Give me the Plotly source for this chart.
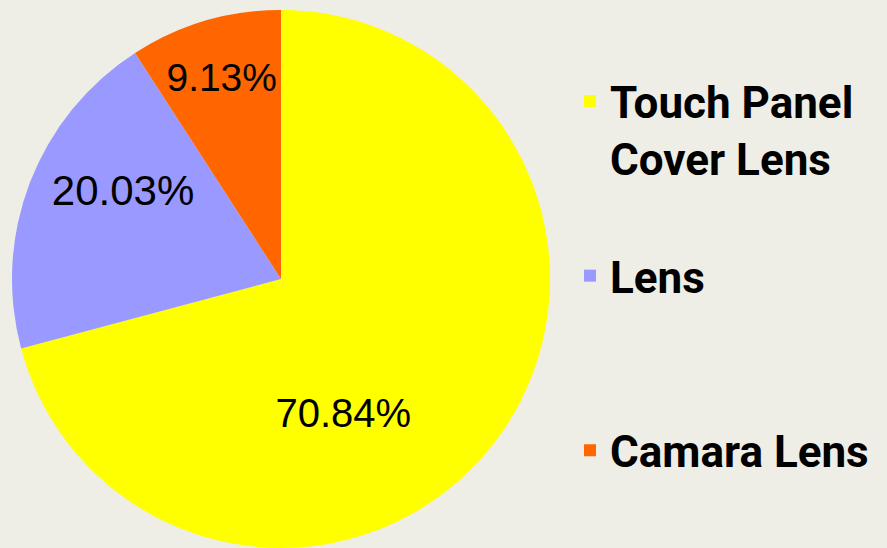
"""Pie chart of lens product share with a large right-hand legend."""

import plotly.graph_objects as go

# --- data -----------------------------------------------------------------
labels = ["Touch Panel Cover Lens", "Lens", "Camara Lens"]
legend_lines = [["Touch Panel", "Cover Lens", " "], ["Lens", " ", " "], ["Camara Lens"]]
shares = [70.84, 20.03, 9.13]
colors = ["#FFFF00", "#9999FF", "#FF6600"]

W, H = 887, 548
BG = "#EEEDE6"

legend_text = ["<br>".join(lines) for lines in legend_lines]

# The big slice's label sits lower and further left than plotly's default
# centroid; pad the text block (non-breaking spaces survive svg collapsing)
# so the visible line lands there.
nb = "\u00a0"
text_templates = [
    f"{nb}<br>{nb}<br>%{{percent:.2%}}" + nb * 8,
    "%{percent:.2%}<br> ",
    "%{percent:.2%}",
]

fig = go.Figure()
fig.add_trace(
    go.Pie(
        labels=legend_text,
        values=shares,
        customdata=labels,
        marker={"colors": colors, "line": {"width": 0}},
        sort=False,
        direction="clockwise",
        rotation=0,
        texttemplate=text_templates,
        textposition="inside",
        insidetextorientation="horizontal",
        textfont={"family": "Liberation Sans, Arial, sans-serif", "size": [40, 42, 42], "color": "black"},
        hovertemplate="%{customdata}: %{percent:.2%}<extra></extra>",
        domain={"x": [12 / W, 550 / W], "y": [0, 1]},
    )
)

fig.update_layout(
    width=W,
    height=H,
    margin={"l": 0, "r": 0, "t": 10, "b": 0},
    paper_bgcolor=BG,
    plot_bgcolor=BG,
    showlegend=True,
    legend={
        "x": 570 / W,
        "xanchor": "left",
        "y": 0.896,
        "yanchor": "top",
        "valign": "top",
        "bgcolor": "rgba(0,0,0,0)",
        "font": {"family": "Roboto, Arial, sans-serif", "size": 44, "color": "black", "weight": "bold"},
    },
)

# drop the browser's default body margin so the figure fills the window
fig.write_html(
    "out.html",
    config={"displayModeBar": False},
    post_script="document.body.style.margin='0';",
)
